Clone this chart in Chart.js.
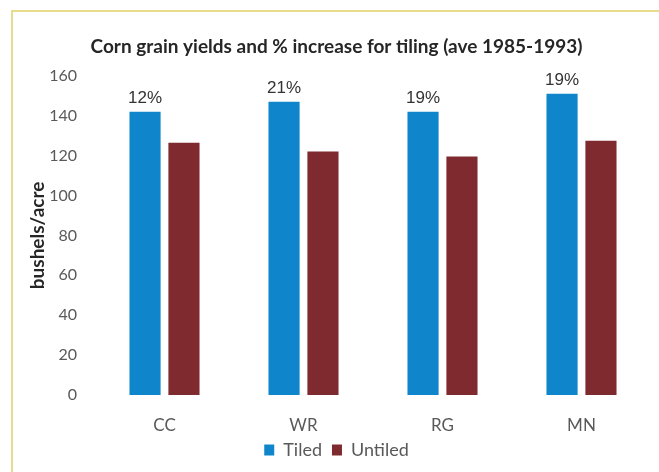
<!DOCTYPE html>
<html>
<head>
<meta charset="utf-8">
<script src="https://cdn.jsdelivr.net/npm/chart.js@4.4.1/dist/chart.umd.min.js"></script>
<style>
  html, body { margin: 0; padding: 0; background: #fff; }
  #wrap { position: relative; width: 659px; height: 472px; overflow: hidden; }
  #frame { position: absolute; left: 11px; top: 10px; width: 700px; height: 500px;
           border-left: 2px solid #e6dc8c; border-top: 2px solid #e6dc8c; }
  #chart { position: absolute; left: 0; top: 0; }
</style>
</head>
<body>
<div id="wrap">
  <div id="frame"></div>
  <canvas id="chart" width="659" height="472"></canvas>
</div>
<script>
// Chart data
const sites   = ['CC', 'WR', 'RG', 'MN'];
const tiled   = [142, 147, 142, 151];
const untiled = [126.5, 122, 119.5, 127.5];
const pctIncrease = ['12%', '21%', '19%', '19%'];
const yTicks  = { min: 0, max: 160, step: 20 };

const COLORS = {
  tiled:   '#0f86cc',
  untiled: '#7e2a2e',
  text:    '#595959',
  title:   '#262626',
};

// Draws the % increase above each tiled bar
const pctLabels = {
  id: 'pctLabels',
  afterDatasetsDraw(chart) {
    const meta = chart.getDatasetMeta(0);
    const ctx = chart.ctx;
    ctx.save();
    ctx.font = '17px "Liberation Sans", Arial, sans-serif';
    ctx.fillStyle = '#333';
    ctx.textAlign = 'center';
    ctx.textBaseline = 'bottom';
    meta.data.forEach((bar, i) => {
      ctx.fillText(pctIncrease[i], bar.x, bar.y - 5);
    });
    ctx.restore();
  }
};

new Chart(document.getElementById('chart'), {
  type: 'bar',
  data: {
    labels: sites,
    datasets: [
      { label: 'Tiled',   data: tiled,   backgroundColor: COLORS.tiled },
      { label: 'Untiled', data: untiled, backgroundColor: COLORS.untiled },
    ]
  },
  options: {
    responsive: false,
    animation: false,
    categoryPercentage: 0.56,
    barPercentage: 0.8,
    layout: { padding: { left: 22, right: 8, top: 0, bottom: 3 } },
    plugins: {
      title: {
        display: true,
        text: 'Corn grain yields and % increase for tiling (ave 1985-1993)',
        color: COLORS.title,
        font: { family: 'Lato', size: 19, weight: 'bold' },
        padding: { top: 35, bottom: 18 },
      },
      legend: {
        position: 'bottom',
        labels: {
          color: COLORS.text,
          font: { family: 'Lato', size: 18 },
          boxWidth: 10,
          boxHeight: 11,
          padding: 10,
        }
      },
      tooltip: { enabled: false },
    },
    scales: {
      x: {
        grid: { display: false, drawTicks: false },
        border: { display: false },
        ticks: { color: COLORS.text, font: { family: 'Lato', size: 17 }, padding: 20 },
        afterFit: s => { s.height = 36; },
      },
      y: {
        min: yTicks.min,
        max: yTicks.max,
        grid: { display: false, drawTicks: false },
        border: { display: false },
        ticks: { stepSize: yTicks.step, color: COLORS.text, font: { family: 'Lato', size: 16 }, padding: 18 },
        title: {
          display: true,
          text: 'bushels/acre',
          color: COLORS.title,
          font: { family: 'Lato', size: 19, weight: 'bold' },
          padding: 4,
        },
        afterFit: s => { s.width = 73; },
      }
    }
  },
  plugins: [pctLabels]
});
</script>
</body>
</html>
